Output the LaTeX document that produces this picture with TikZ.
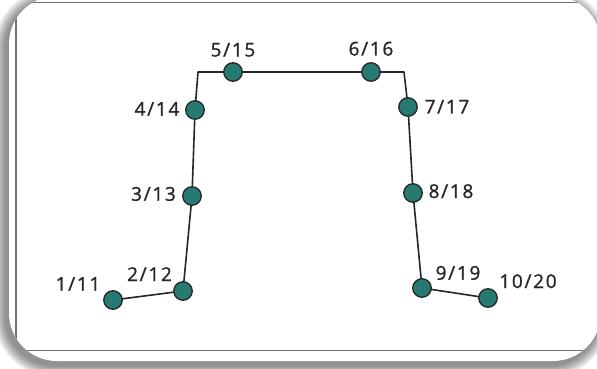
\documentclass[tikz,border=0pt]{standalone}
\usepackage{fontspec}
\setmainfont{Open Sans}[LetterSpace=9, FakeBold=1.2]
\usetikzlibrary{backgrounds}
\definecolor{tealdot}{RGB}{38,122,112}
\definecolor{wire}{RGB}{38,38,38}
\definecolor{labeltext}{RGB}{40,40,40}
\definecolor{framegray}{RGB}{115,115,115}
\tikzset{
  dot/.style={circle, fill=tealdot, draw=wire, line width=1.3pt, minimum size=18.5pt, inner sep=0pt},
  tag/.style={text=labeltext, font=\fontsize{19}{19}\selectfont, inner sep=0pt, anchor=base},
  link/.style={draw=wire, line width=1.6pt, line join=round},
  frameline/.style={draw=framegray, line width=1.1pt}
}
\begin{document}
\begin{tikzpicture}[x=1pt,y=-1pt]
\useasboundingbox (0,0) rectangle (597,369);

\begin{pgfonlayer}{background}
  \clip (0,0) rectangle (597,369);
  \fill[white] (0,0) rectangle (597,369);
  % soft drop shadow behind the card
  \foreach \k in {1,...,12}{
    \fill[black, opacity=0.045, rounded corners=48pt+\k pt]
      (9-\k-3, -4-\k+4) rectangle (601+\k-3, 361+\k+4);
  }
  % white card
  \fill[white, rounded corners=48pt] (9,-4) rectangle (601,361);
  % thin inner frame, trimmed by the card outline
  \begin{scope}
    \clip[rounded corners=48pt] (9,-4) rectangle (601,361);
    \draw[frameline] (16,2.5) rectangle (603,350.5);
  \end{scope}
\end{pgfonlayer}

% bend points of the chain
\coordinate (cl) at (198,72);
\coordinate (cr) at (404,72);

% chain nodes
\node[dot] (n1)  at (113,300) {};
\node[dot] (n2)  at (183,291) {};
\node[dot] (n3)  at (192,196) {};
\node[dot] (n4)  at (195,110) {};
\node[dot] (n5)  at (233,72)  {};
\node[dot] (n6)  at (371,72)  {};
\node[dot] (n7)  at (408,107) {};
\node[dot] (n8)  at (413,193) {};
\node[dot] (n9)  at (422,288) {};
\node[dot] (n10) at (488,298) {};

% connector running through all the nodes, kept behind them
\begin{pgfonlayer}{background}
  \path[link] (n1.center) -- (n2.center) -- (n3.center) -- (n4.center) -- (cl)
    -- (n5.center) -- (n6.center) -- (cr) -- (n7.center) -- (n8.center)
    -- (n9.center) -- (n10.center);
\end{pgfonlayer}

% labels
\node[tag] (l1)  at (78,290.7)  {1/11};
\node[tag] (l2)  at (149.5,281) {2/12};
\node[tag] (l3)  at (153.5,200.7) {3/13};
\node[tag] (l4)  at (157,115.7) {4/14};
\node[tag] (l5)  at (233,56.5)  {5/15};
\node[tag] (l6)  at (371,55.5)  {6/16};
\node[tag] (l7)  at (447,113.5) {7/17};
\node[tag] (l8)  at (451,198)   {8/18};
\node[tag] (l9)  at (458,279.7) {9/19};
\node[tag] (l10) at (528,288)   {10/20};
\end{tikzpicture}
\end{document}
